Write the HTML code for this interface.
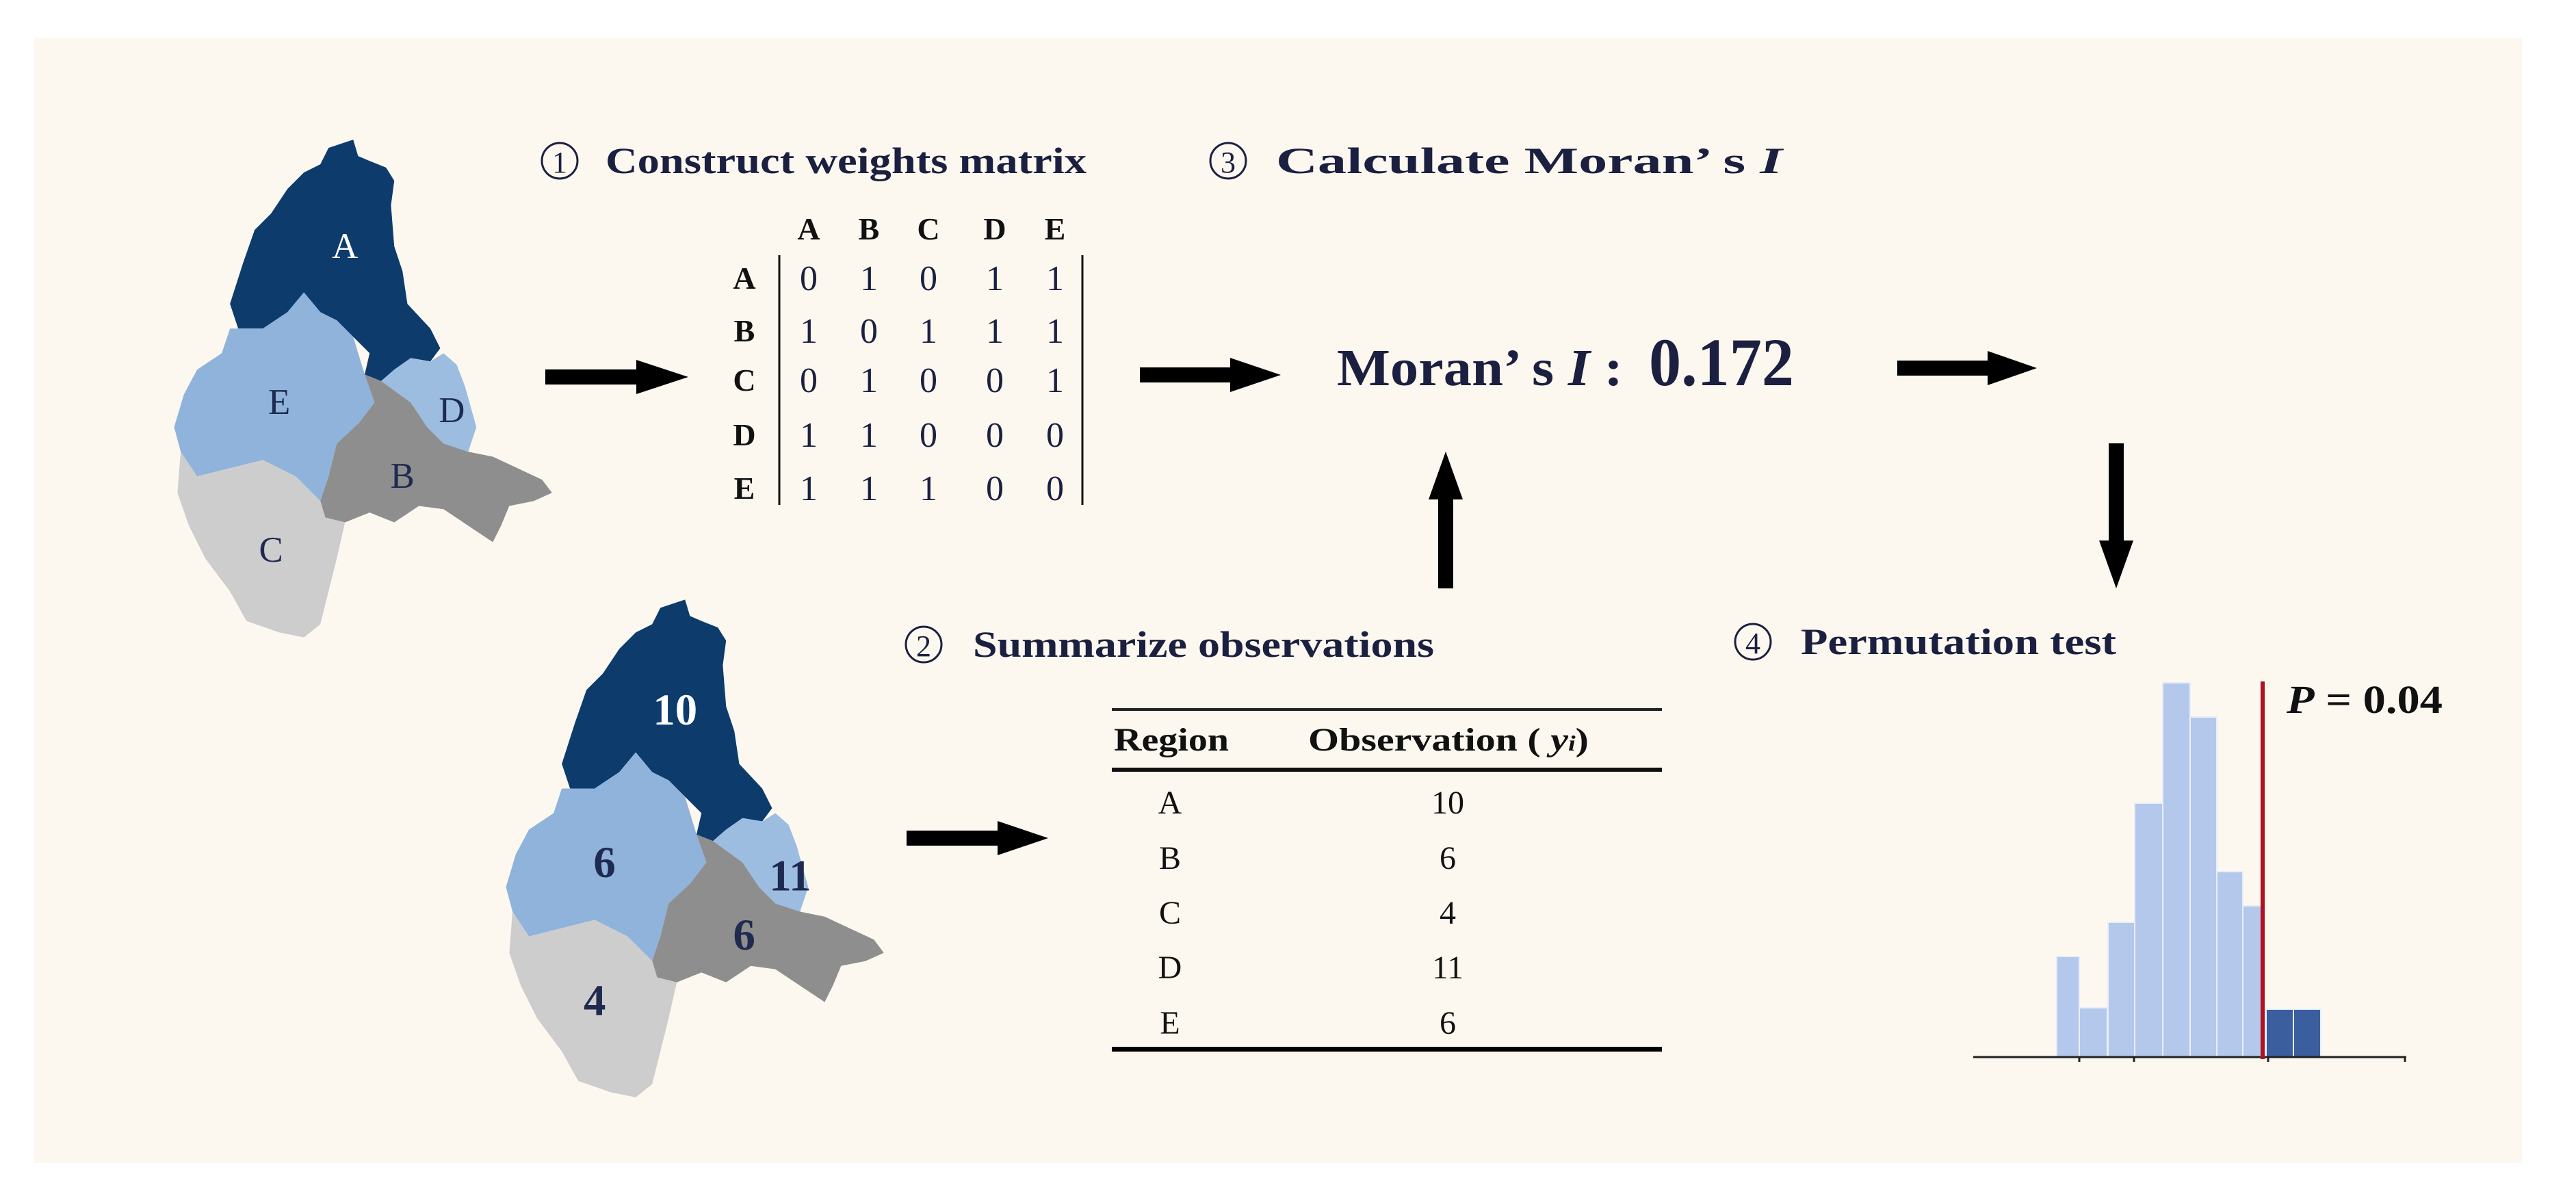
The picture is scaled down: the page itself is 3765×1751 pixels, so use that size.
<!DOCTYPE html>
<html><head><meta charset="utf-8"><style>html,body{margin:0;padding:0;background:#fff}svg{display:block}</style></head>
<body>
<svg width="3765" height="1751" viewBox="0 0 3765 1751" xmlns="http://www.w3.org/2000/svg" font-family="'Liberation Serif', serif">
<rect x="0" y="0" width="3765" height="1751" fill="#ffffff"/>
<rect x="50" y="55" width="3636" height="1645" fill="#fcf8f0"/>
<defs>
<g id="map">
<polygon fill="#0d3b6c" points="200,90 215,85 218,95 225,98 235,102 240,110 238,125 240,150 245,165 248,185 262,200 268,212 262,220 250,218 240,225 232,232 222,228 225,215 215,205 205,195 195,190 185,178 175,190 160,200 145,200 140,185 148,160 155,140 165,130 175,115 185,105 195,100"/>
<polygon fill="#8fb3da" points="140,200 160,200 175,190 185,178 195,190 205,195 215,205 222,228 228,245 218,258 205,270 200,290 195,305 190,300 180,290 170,285 160,280 140,285 120,290 110,275 106,260 112,240 120,225 135,215"/>
<polygon fill="#9cbde0" points="232,232 240,225 250,218 262,220 270,215 278,222 283,235 290,260 285,275 270,270 260,260 250,245"/>
<polygon fill="#8e8e8e" points="222,228 232,232 250,245 260,260 270,270 285,275 300,278 315,285 330,292 336,300 325,305 310,308 305,320 300,330 285,320 270,310 255,308 240,318 225,312 210,318 198,315 195,305 200,290 205,270 218,258 228,245"/>
<polygon fill="#cdcdcd" points="110,275 120,290 140,285 160,280 170,285 180,290 190,300 195,305 198,315 210,318 205,340 200,360 195,380 185,388 170,385 150,378 140,360 125,340 115,320 108,300"/>
</g>
</defs>
<g transform="scale(2.401)">
<use href="#map"/>
<g fill="#1f2a50" font-size="22" text-anchor="middle">
<text x="210" y="157" fill="#fff">A</text><text x="170" y="252">E</text><text x="275" y="257">D</text><text x="245" y="297">B</text><text x="165" y="342">C</text>
</g>
<g transform="translate(202,280)"><use href="#map"/></g>
<g fill="#1f2a50" font-size="27" font-weight="bold" text-anchor="middle">
<text x="411" y="441" fill="#fff">10</text><text x="368" y="534">6</text><text x="481" y="542">11</text><text x="453" y="578">6</text><text x="362" y="618">4</text>
</g>
</g>

<g fill="#1b2040" font-weight="bold">
<circle cx="818" cy="235" r="26" fill="none" stroke="#1b2040" stroke-width="3"/><text x="818" y="252" font-size="44" font-weight="normal" text-anchor="middle">1</text>
<text x="885" y="253" font-size="54" textLength="703" lengthAdjust="spacingAndGlyphs">Construct weights matrix</text>
<circle cx="1795" cy="235" r="26" fill="none" stroke="#1b2040" stroke-width="3"/><text x="1795" y="252" font-size="44" font-weight="normal" text-anchor="middle">3</text>
<text x="1865" y="253" font-size="54" textLength="740" lengthAdjust="spacingAndGlyphs">Calculate Moran’ s <tspan font-style="italic">I</tspan></text>
<circle cx="1350" cy="942" r="26" fill="none" stroke="#1b2040" stroke-width="3"/><text x="1350" y="959" font-size="44" font-weight="normal" text-anchor="middle">2</text>
<text x="1422" y="960" font-size="54" textLength="674" lengthAdjust="spacingAndGlyphs">Summarize observations</text>
<circle cx="2562" cy="938" r="26" fill="none" stroke="#1b2040" stroke-width="3"/><text x="2562" y="955" font-size="44" font-weight="normal" text-anchor="middle">4</text>
<text x="2632" y="956" font-size="54" textLength="461" lengthAdjust="spacingAndGlyphs">Permutation test</text>
<text x="1954" y="563" font-size="76" textLength="418" lengthAdjust="spacingAndGlyphs">Moran’ s <tspan font-style="italic">I</tspan> :</text>
<text x="2410" y="563" font-size="100" textLength="212" lengthAdjust="spacingAndGlyphs">0.172</text>
</g>

<!-- matrix -->
<g fill="#111" font-size="52" text-anchor="middle">
<g font-weight="bold" font-size="46"><text x="1182" y="350">A</text><text x="1270" y="350">B</text><text x="1357" y="350">C</text><text x="1454" y="350">D</text><text x="1542" y="350">E</text>
<text x="1088" y="422">A</text><text x="1088" y="499">B</text><text x="1088" y="571">C</text><text x="1088" y="651">D</text><text x="1088" y="729">E</text></g>
<g fill="#1b2040">
<text x="1182" y="424">0</text><text x="1270" y="424">1</text><text x="1357" y="424">0</text><text x="1454" y="424">1</text><text x="1542" y="424">1</text>
<text x="1182" y="501">1</text><text x="1270" y="501">0</text><text x="1357" y="501">1</text><text x="1454" y="501">1</text><text x="1542" y="501">1</text>
<text x="1182" y="573">0</text><text x="1270" y="573">1</text><text x="1357" y="573">0</text><text x="1454" y="573">0</text><text x="1542" y="573">1</text>
<text x="1182" y="653">1</text><text x="1270" y="653">1</text><text x="1357" y="653">0</text><text x="1454" y="653">0</text><text x="1542" y="653">0</text>
<text x="1182" y="731">1</text><text x="1270" y="731">1</text><text x="1357" y="731">1</text><text x="1454" y="731">0</text><text x="1542" y="731">0</text>
</g></g>
<line x1="1139" y1="373" x2="1139" y2="738" stroke="#111" stroke-width="3"/>
<line x1="1582" y1="373" x2="1582" y2="738" stroke="#111" stroke-width="3"/>

<!-- arrows -->
<g fill="#000">
<polygon points="797,540 930,540 930,526 1006,551 930,576 930,562 797,562"/>
<polygon points="1666,537 1798,537 1798,523 1872,548 1798,573 1798,559 1666,559"/>
<polygon points="2773,527 2905,527 2905,513 2977,538 2905,563 2905,549 2773,549"/>
<polygon points="1325,1214 1458,1214 1458,1200 1532,1225 1458,1250 1458,1236 1325,1236"/>
<polygon points="3082,648 3104,648 3104,790 3118,790 3093,860 3068,790 3082,790"/>
<polygon points="2102,860 2124,860 2124,730 2138,730 2113,660 2088,730 2102,730"/>
</g>

<!-- table -->
<rect x="1625" y="1035" width="804" height="4" fill="#222"/>
<rect x="1625" y="1122" width="804" height="6" fill="#111"/>
<rect x="1625" y="1530" width="804" height="7" fill="#000"/>
<g fill="#111" font-size="48" text-anchor="middle">
<text x="1712" y="1097" font-weight="bold" textLength="168" lengthAdjust="spacingAndGlyphs">Region</text>
<text x="2117" y="1097" font-weight="bold" textLength="410" lengthAdjust="spacingAndGlyphs">Observation ( <tspan font-style="italic">y</tspan><tspan font-style="italic" font-size="32">i</tspan>)</text>
<text x="1710" y="1189">A</text><text x="1710" y="1270">B</text><text x="1710" y="1350">C</text><text x="1710" y="1430">D</text><text x="1710" y="1511">E</text>
<text x="2116" y="1189">10</text><text x="2116" y="1270">6</text><text x="2116" y="1350">4</text><text x="2116" y="1430">11</text><text x="2116" y="1511">6</text>
</g>

<!-- histogram -->
<g fill="#b3c8ea" stroke="#e8eef8" stroke-width="2">
<rect x="3006" y="1398" width="33" height="147"/>
<rect x="3039" y="1473" width="41" height="72"/>
<rect x="3081" y="1348" width="39" height="197"/>
<rect x="3120" y="1174" width="41" height="371"/>
<rect x="3161" y="998" width="40" height="547"/>
<rect x="3201" y="1048" width="39" height="497"/>
<rect x="3240" y="1274" width="38" height="271"/>
<rect x="3278" y="1324" width="29" height="221"/>
</g>
<g fill="#3a5e9e" stroke="#e8eef8" stroke-width="2">
<rect x="3312" y="1475" width="40" height="70"/>
<rect x="3352" y="1475" width="40" height="70"/>
</g>
<line x1="2884" y1="1545" x2="3517" y2="1545" stroke="#222" stroke-width="3"/>
<g stroke="#222" stroke-width="3"><line x1="3039" y1="1545" x2="3039" y2="1552"/><line x1="3119" y1="1545" x2="3119" y2="1552"/><line x1="3315" y1="1545" x2="3315" y2="1552"/><line x1="3515" y1="1545" x2="3515" y2="1552"/></g>
<rect x="3304" y="996" width="6" height="552" fill="#b01020"/>
<text x="3342" y="1042" font-size="58" font-weight="bold" fill="#111" textLength="228" lengthAdjust="spacingAndGlyphs"><tspan font-style="italic">P</tspan> = 0.04</text>
</svg>
</body></html>
